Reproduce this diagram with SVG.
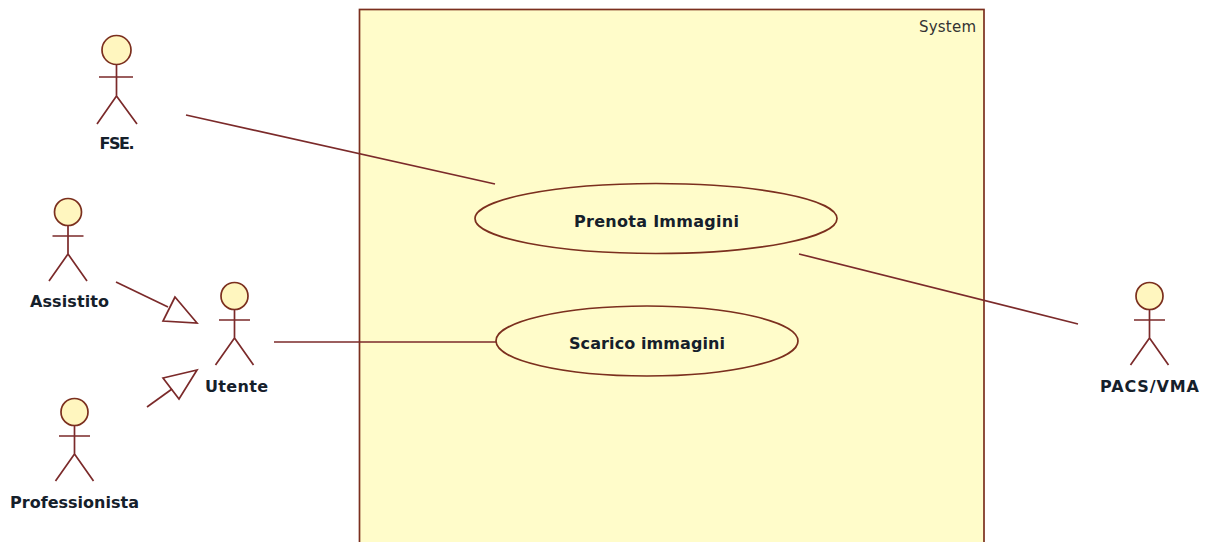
<svg xmlns="http://www.w3.org/2000/svg" width="1205" height="542" viewBox="0 0 1205 542">
<style>
.l{stroke:#7b2a2a;stroke-width:1.7;fill:none}
.h{fill:#fff6bf;stroke:#7b2f1e;stroke-width:1.7}
.u{fill:#fffcca;stroke:#7b2f1e;stroke-width:1.7}
text{font-family:"DejaVu Sans",sans-serif;font-size:16px;font-weight:700;fill:#15202b;text-anchor:middle}
</style>
<defs>
<g id="actor"><circle class="h" cx="0" cy="-24" r="13.5"/><path class="l" d="M0-10.500V18M-15.500 0H15.500M0 18L-19 45M0 18L19 45"/></g>
</defs>
<g id="system"><rect x="359.500" y="9.500" width="624.500" height="540" fill="#fffcca" stroke="#7b2f1e" stroke-width="1.700"/><text x="947.500" y="32" textLength="57" style="font-weight:400;font-size:15px;fill:#333">System</text></g>
<g id="connectors">
<path class="l" d="M186 115L495 184"/>
<path class="l" d="M799 254L1078 324"/>
<path class="l" d="M274 342H496"/>
<path class="l" d="M116 282L168 307"/>
<path class="l" d="M175 297L163 321L197 323Z"/>
<path class="l" d="M147 407L172 389"/>
<path class="l" d="M163 378L197 370L179 399Z"/>
</g>
<g id="uc1"><ellipse class="u" cx="656" cy="218.500" rx="181" ry="35"/><text x="656.500" y="227" textLength="165">Prenota Immagini</text></g>
<g id="uc2"><ellipse class="u" cx="647" cy="341" rx="151" ry="35"/><text x="647" y="349" textLength="156">Scarico immagini</text></g>
<g id="fse"><circle class="h" cx="116.500" cy="50" r="14.500"/><path class="l" d="M116.500 64.500V96M99 77H133M116.500 96L97 124M116.500 96L137 124"/><text x="117" y="149" textLength="35">FSE.</text></g>
<g id="assistito"><use href="#actor" x="68" y="236"/><text x="69.500" y="307" textLength="79">Assistito</text></g>
<g id="utente"><use href="#actor" x="234.500" y="320"/><text x="236.500" y="392" textLength="63">Utente</text></g>
<g id="professionista"><use href="#actor" x="74.500" y="436"/><text x="74.500" y="508" textLength="129">Professionista</text></g>
<g id="pacs"><use href="#actor" x="1149.500" y="320"/><text x="1149.500" y="392" textLength="99">PACS/VMA</text></g>
</svg>
